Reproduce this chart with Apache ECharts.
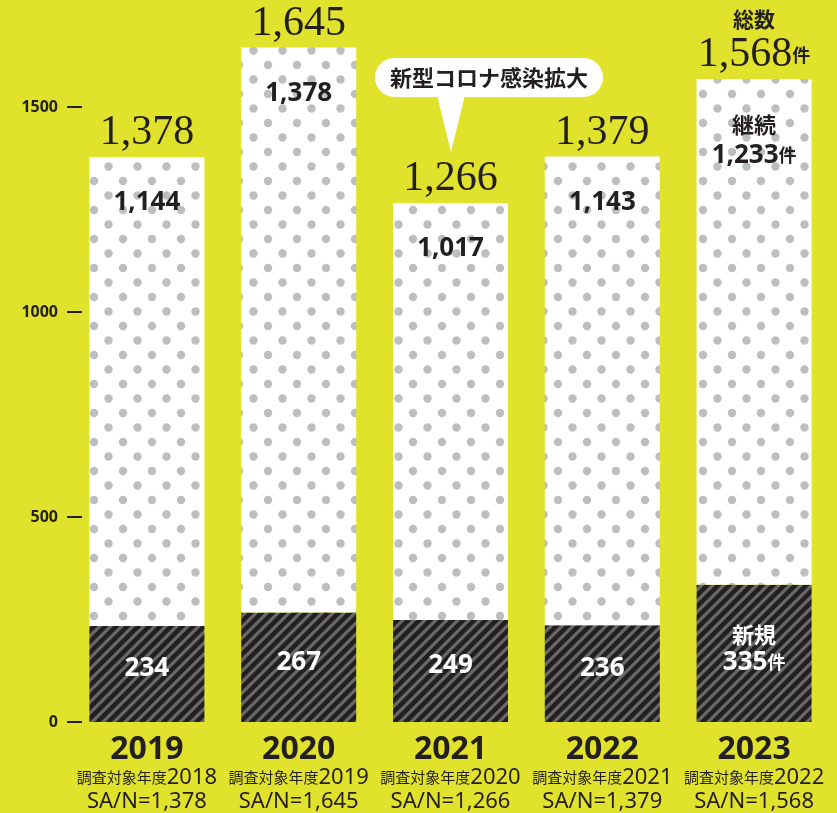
<!DOCTYPE html>
<html>
<head>
<meta charset="utf-8">
<script src="https://cdn.jsdelivr.net/npm/echarts@6/dist/echarts.min.js"></script>
<style>
  html, body { margin: 0; padding: 0; background: #e1e22b; }
  #main { width: 837px; height: 813px; }
</style>
</head>
<body>
<div id="main"></div>
<script>
// データ
const years = ['2019', '2020', '2021', '2022', '2023']
const surveyYears = ['2018', '2019', '2020', '2021', '2022']
const newCounts = [234, 267, 249, 236, 335]        // 新規
const continuing = [1144, 1378, 1017, 1143, 1233]  // 継続
const totals = [1378, 1645, 1266, 1379, 1568]      // 総数
const yTicks = [0, 500, 1000, 1500]
const calloutText = '新型コロナ感染拡大'

const ink = '#231f20'
const fmt = v => v.toLocaleString('en-US')

// 斜線パターン
function makeHatch() {
  const s = 11
  const c = document.createElement('canvas')
  c.width = s; c.height = s
  const ctx = c.getContext('2d')
  ctx.fillStyle = ink
  ctx.fillRect(0, 0, s, s)
  ctx.strokeStyle = '#686868'
  ctx.lineWidth = 3.2
  ctx.beginPath()
  ctx.moveTo(-3, 3); ctx.lineTo(3, -3)
  ctx.moveTo(0, s); ctx.lineTo(s, 0)
  ctx.moveTo(s - 3, s + 3); ctx.lineTo(s + 3, s - 3)
  ctx.stroke()
  return c
}
// 水玉パターン
function makeDots() {
  const c = document.createElement('canvas')
  c.width = 29; c.height = 29
  const ctx = c.getContext('2d')
  ctx.fillStyle = '#ffffff'
  ctx.fillRect(0, 0, 29, 29)
  ctx.fillStyle = '#bdbec1'
  ctx.beginPath(); ctx.arc(7, 7, 4.2, 0, Math.PI * 2); ctx.fill()
  ctx.beginPath(); ctx.arc(21.5, 21.5, 4.2, 0, Math.PI * 2); ctx.fill()
  return c
}

const chart = echarts.init(document.getElementById('main'))
chart.setOption({
  backgroundColor: '#e1e22b',
  animation: false,
  grid: { left: 71, right: 7, top: 107, bottom: 87 },
  xAxis: {
    type: 'category',
    data: years,
    axisLine: { show: false },
    axisTick: { show: false },
    axisLabel: {
      interval: 0,
      margin: 12,
      formatter: function (v, i) {
        return '{y|' + v + '}\n{k|調査対象年度}{d|' + surveyYears[i] + '}\n{s|SA/N=' + fmt(totals[i]) + '}'
      },
      rich: {
        y: { fontFamily: 'Noto Sans', fontWeight: 'bold', fontSize: 32, color: ink, lineHeight: 31 },
        k: { fontFamily: 'Noto Sans CJK JP', fontSize: 15, color: ink, lineHeight: 25 },
        d: { fontFamily: 'Noto Sans', fontSize: 22, color: ink, lineHeight: 25 },
        s: { fontFamily: 'Noto Sans', fontSize: 22, color: ink, lineHeight: 24 }
      }
    }
  },
  yAxis: {
    type: 'value',
    min: yTicks[0],
    max: yTicks[yTicks.length - 1],
    interval: 500,
    offset: -11,
    splitLine: { show: false },
    axisLine: { show: false },
    axisTick: { show: true, length: 15, lineStyle: { color: ink, width: 2 } },
    axisLabel: {
      margin: 24,
      formatter: v => String(v),
      fontFamily: 'Noto Sans',
      fontWeight: 'bold',
      fontSize: 16,
      color: ink
    }
  },
  series: [
    {
      name: '新規',
      type: 'bar',
      stack: 'all',
      barWidth: 115,
      clip: false,
      data: newCounts,
      itemStyle: { color: { image: makeHatch(), repeat: 'repeat' } },
      label: {
        show: true,
        position: 'inside',
        offset: [0, -5],
        formatter: function (p) {
          if (p.dataIndex === 4) return '{j|新規}\n{n|' + fmt(p.value) + '}{u|件}'
          return '{n|' + fmt(p.value) + '}'
        },
        rich: {
          j: { fontFamily: 'Noto Sans CJK JP', fontWeight: 'bold', fontSize: 22, color: '#fff', lineHeight: 28 },
          n: { fontFamily: 'Noto Sans', fontWeight: 'bold', fontSize: 26, color: '#fff', lineHeight: 28 },
          u: { fontFamily: 'Noto Sans CJK JP', fontWeight: 'bold', fontSize: 18, color: '#fff', lineHeight: 28 }
        }
      }
    },
    {
      name: '継続',
      type: 'bar',
      stack: 'all',
      barWidth: 115,
      clip: false,
      data: continuing,
      itemStyle: { color: { image: makeDots(), repeat: 'repeat' } },
      label: {
        show: true,
        position: 'insideTop',
        distance: 31,
        formatter: function (p) {
          if (p.dataIndex === 4) return '{j|継続}\n{n|' + fmt(p.value) + '}{u|件}'
          return '{n|' + fmt(p.value) + '}'
        },
        rich: {
          j: { fontFamily: 'Noto Sans CJK JP', fontWeight: 'bold', fontSize: 22, color: ink, lineHeight: 30 },
          n: { fontFamily: 'Noto Sans', fontWeight: 'bold', fontSize: 26, color: ink, lineHeight: 30 },
          u: { fontFamily: 'Noto Sans CJK JP', fontWeight: 'bold', fontSize: 18, color: ink, lineHeight: 30 }
        }
      }
    },
    {
      // 総数ラベル用（線・点は透明）
      name: '総数',
      type: 'line',
      data: totals,
      symbol: 'circle',
      symbolSize: 2,
      showSymbol: true,
      clip: false,
      itemStyle: { color: 'rgba(0,0,0,0)' },
      lineStyle: { color: 'rgba(0,0,0,0)', width: 0 },
      z: 5,
      label: {
        show: true,
        position: 'top',
        distance: 2,
        color: ink,
        formatter: function (p) {
          if (p.dataIndex === 4) return '{t|総数}\n{n|' + fmt(p.value) + '}{u|件}'
          return '{n|' + fmt(p.value) + '}'
        },
        rich: {
          t: { fontFamily: 'Noto Sans CJK JP', fontWeight: 'bold', fontSize: 21, color: ink, lineHeight: 30 },
          n: { fontFamily: 'Liberation Serif', fontSize: 42, color: ink, lineHeight: 42 },
          u: { fontFamily: 'Noto Sans CJK JP', fontWeight: 'bold', fontSize: 18, color: ink, lineHeight: 42 }
        }
      }
    }
  ],
  graphic: [
    {
      type: 'group',
      z: 10,
      children: [
        { type: 'polygon', shape: { points: [[437, 95], [465, 95], [451, 152]] }, style: { fill: '#fff' } },
        { type: 'rect', shape: { x: 375, y: 58, width: 228, height: 39, r: 19.5 }, style: { fill: '#fff' } },
        {
          type: 'text',
          style: {
            text: calloutText, x: 489, y: 78, align: 'center', verticalAlign: 'middle',
            fontFamily: 'Noto Sans CJK JP', fontWeight: 'bold', fontSize: 22, fill: ink
          }
        }
      ]
    }
  ]
})
</script>
</body>
</html>
